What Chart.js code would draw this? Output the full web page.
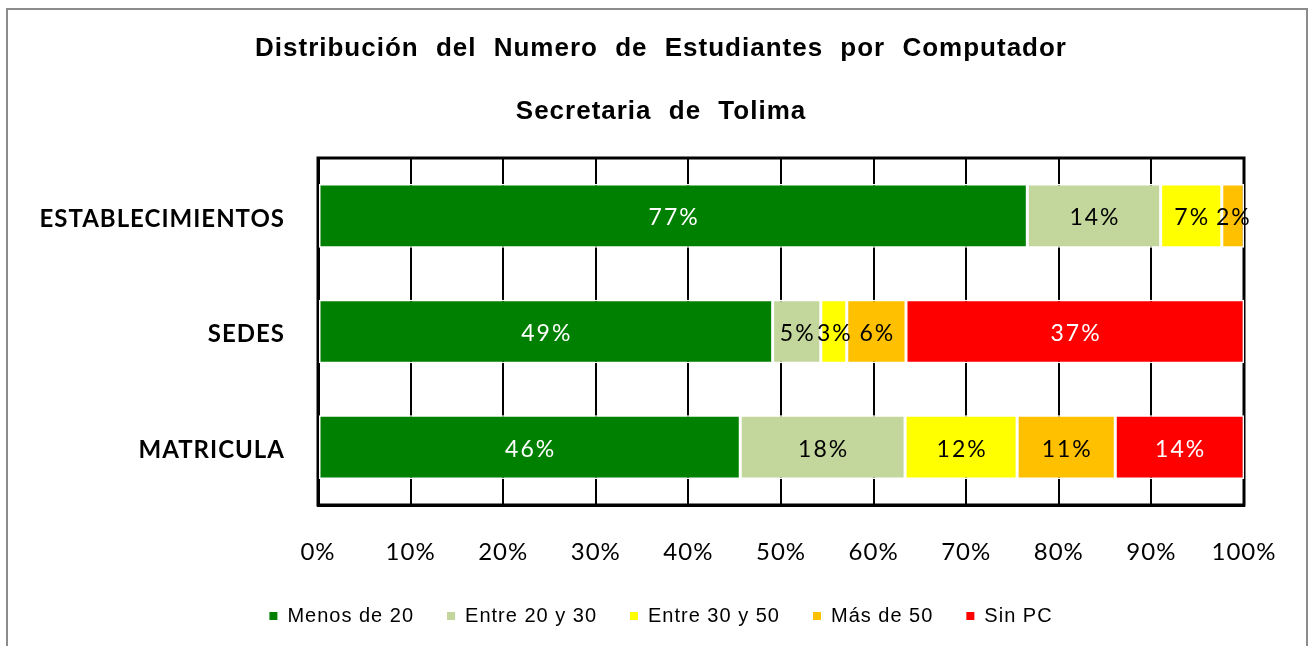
<!DOCTYPE html>
<html><head><meta charset="utf-8">
<script src="https://cdn.jsdelivr.net/npm/chart.js@4"></script>
<style>html,body{margin:0;padding:0;background:#fff;overflow:hidden}canvas{display:block}</style>
</head><body>
<canvas id="c" width="1313" height="646"></canvas>
<script>
const categories = ['ESTABLECIMIENTOS', 'SEDES', 'MATRICULA'];
const seriesNames = ['Menos de 20', 'Entre 20 y 30', 'Entre 30 y 50', 'Más de 50', 'Sin PC'];
const menos20 = [76.6, 49.1, 45.6];
const entre20y30 = [14.4, 5.2, 17.8];
const entre30y50 = [6.6, 2.8, 12.1];
const mas50 = [2.4, 6.4, 10.6];
const sinPC = [0, 36.5, 13.9];
const xTickLabels = ['0%', '10%', '20%', '30%', '40%', '50%', '60%', '70%', '80%', '90%', '100%'];
const titleLines = ['Distribución del Numero de Estudiantes por Computador', 'Secretaria de Tolima'];

const seriesValues = [menos20, entre20y30, entre30y50, mas50, sinPC];
const seriesColors = ['#008000', '#C3D69B', '#FFFF00', '#FFC000', '#FF0000'];
const labelColors = ['#FFFFFF', '#000000', '#000000', '#000000', '#FFFFFF'];

function setSpacing(chart) {
  if ('letterSpacing' in chart.ctx) chart.ctx.letterSpacing = '1px';
}

const spacingPlugin = {
  id: 'spacing',
  afterInit: setSpacing,
  beforeUpdate: setSpacing,
  beforeDraw: setSpacing,
  afterLayout(chart) {
    const t = chart.titleBlock;
    if (t && !t.__wrapped) {
      const orig = t.draw;
      t.draw = function (...args) {
        const c = chart.ctx;
        const ls = c.letterSpacing, ws = c.wordSpacing;
        if ('letterSpacing' in c) c.letterSpacing = '1px';
        if ('wordSpacing' in c) c.wordSpacing = '9px';
        orig.apply(this, args);
        if ('letterSpacing' in c) c.letterSpacing = ls;
        if ('wordSpacing' in c) c.wordSpacing = ws;
      };
      t.__wrapped = true;
    }
  }
};

const framePlugin = {
  id: 'frame',
  beforeDraw(chart) {
    const ctx = chart.ctx;
    ctx.save();
    ctx.strokeStyle = '#8c8c8c';
    ctx.lineWidth = 2;
    ctx.strokeRect(7, 9, 1300, 700);
    ctx.restore();
  },
  beforeDatasetsDraw(chart) {
    const {ctx, chartArea: a} = chart;
    ctx.save();
    ctx.strokeStyle = '#000';
    ctx.lineWidth = 3;
    ctx.strokeRect(a.left, a.top, a.right - a.left, a.bottom - a.top);
    ctx.restore();
  }
};

const valueLabels = {
  id: 'valueLabels',
  afterDatasetsDraw(chart) {
    const ctx = chart.ctx;
    ctx.save();
    if ('letterSpacing' in ctx) ctx.letterSpacing = '2px';
    ctx.font = '23px Lato';
    ctx.textAlign = 'center';
    ctx.textBaseline = 'middle';
    chart.data.datasets.forEach((ds, di) => {
      const meta = chart.getDatasetMeta(di);
      meta.data.forEach((el, i) => {
        const v = ds.data[i];
        if (!v) return;
        const p = el.getProps(['x', 'y', 'base'], true);
        ctx.fillStyle = labelColors[di];
        ctx.fillText(Math.round(v) + '%', (p.x + p.base) / 2 + 1, p.y + 2);
      });
    });
    ctx.restore();
  }
};

new Chart(document.getElementById('c'), {
  type: 'bar',
  data: {
    labels: categories,
    datasets: seriesNames.map((name, i) => ({
      label: name,
      data: seriesValues[i],
      backgroundColor: seriesColors[i],
      borderColor: '#FFFFFF',
      borderWidth: 1.5,
      borderSkipped: false,
      categoryPercentage: 1,
      barPercentage: 0.55
    }))
  },
  options: {
    indexAxis: 'y',
    responsive: false,
    animation: false,
    layout: {padding: {left: 9, right: 0, top: 0, bottom: 10}},
    plugins: {
      title: {
        display: true,
        text: titleLines,
        color: '#000',
        font: {family: 'Liberation Sans', size: 26, weight: 'bold', lineHeight: '63px'},
        padding: {top: 17, bottom: 15}
      },
      legend: {
        position: 'bottom',
        labels: {
          boxWidth: 8,
          boxHeight: 8,
          padding: 33,
          color: '#000',
          font: {family: 'Liberation Sans', size: 20},
          generateLabels: (chart) => Chart.defaults.plugins.legend.labels.generateLabels(chart)
            .map(l => Object.assign(l, {lineWidth: 0, strokeStyle: 'rgba(0,0,0,0)'}))
        }
      },
      tooltip: {enabled: false}
    },
    scales: {
      x: {
        stacked: true,
        min: 0,
        max: 100,
        ticks: {
          stepSize: 10,
          callback: (v, i) => xTickLabels[i],
          color: '#000',
          padding: 33,
          font: {family: 'Lato', size: 24}
        },
        grid: {color: '#000', lineWidth: 2, drawTicks: false},
        border: {color: '#000', width: 3},
        afterFit: (s) => { s.height = 68; }
      },
      y: {
        stacked: true,
        grid: {display: false, drawTicks: false},
        border: {color: '#000', width: 3},
        ticks: {color: '#000', padding: 33, labelOffset: 3, font: {family: 'Lato', size: 24, weight: 'bold'}},
        afterFit: (s) => { s.width = 309; }
      },
      y2: {
        type: 'category',
        position: 'right',
        grid: {display: false, drawTicks: false},
        border: {display: false},
        ticks: {display: false},
        afterFit: (s) => { s.width = 69; }
      }
    }
  },
  plugins: [spacingPlugin, framePlugin, valueLabels]
});
</script>
</body></html>
